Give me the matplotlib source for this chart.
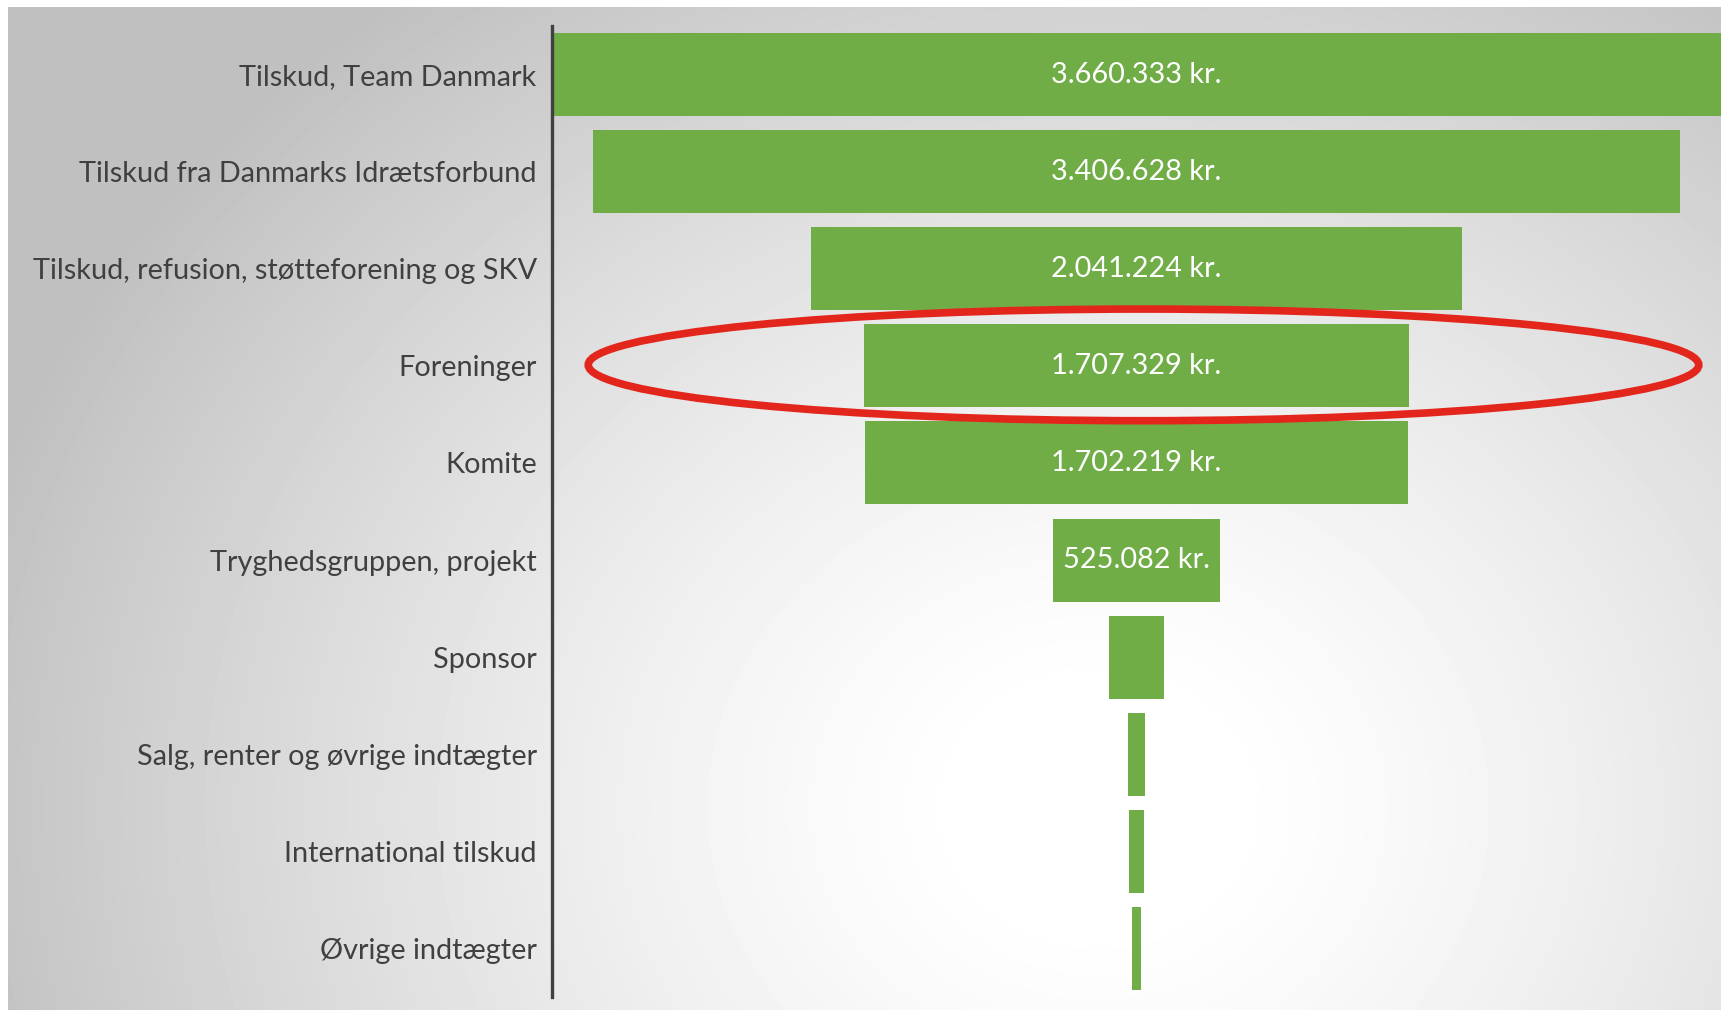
import numpy as np
import matplotlib.pyplot as plt
from matplotlib.patches import Ellipse

# --- data ---
categories = [
    "Tilskud, Team Danmark",
    "Tilskud fra Danmarks Idrætsforbund",
    "Tilskud, refusion, støtteforening og SKV",
    "Foreninger",
    "Komite",
    "Tryghedsgruppen, projekt",
    "Sponsor",
    "Salg, renter og øvrige indtægter",
    "International tilskud",
    "Øvrige indtægter",
]
values = [3660333, 3406628, 2041224, 1707329, 1702219, 525082, 171000, 53000, 47000, 31000]
value_labels = ["3.660.333 kr.", "3.406.628 kr.", "2.041.224 kr.", "1.707.329 kr.",
                "1.702.219 kr.", "525.082 kr.", "", "", "", ""]
highlight = "Foreninger"

plt.rcParams['font.family'] = ['Lato', 'DejaVu Sans']

W, H = 1721, 1010
fig = plt.figure(figsize=(W / 100, H / 100), dpi=100)

# slide-like radial gray background
bg = fig.add_axes([8 / W, 0, 1 - 8 / W, 1 - 7 / H])
gh, gw = H - 7, W - 8
yy, xx = np.mgrid[0:gh, 0:gw]
d = np.hypot(xx - 1090, (yy - 800) * 1.15)
t = np.clip((d - 120) / 1050, 0, 1)
shade = 1 - 0.25 * t ** 1.3
bg.imshow(shade, cmap='gray', vmin=0, vmax=1, aspect='auto', interpolation='bilinear')
bg.axis('off')

# funnel
ax = fig.add_axes([552 / W, 13 / H, 1 - 552 / W, 971 / H])
ax.set_facecolor('none')
vals = np.array(values)
y = np.arange(len(categories))
ax.barh(y, vals, left=-vals / 2, height=0.855, color='#70ad47')
ax.set_xlim(-vals.max() / 2, vals.max() / 2)
ax.set_ylim(len(categories) - 0.5, -0.5)

ax.set_yticks(y, categories, fontsize=20.8, color='#404040')
ax.tick_params(axis='y', length=0, pad=11)
ax.set_xticks([])
for s in ['top', 'right', 'bottom']:
    ax.spines[s].set_visible(False)
ax.spines['left'].set_color('#404040')
ax.spines['left'].set_linewidth(2.4)

for i, lab in enumerate(value_labels):
    if lab:
        ax.text(0, i, lab, ha='center', va='center', color='white', fontsize=20.8)

# red ring around the highlighted row
hi = categories.index(highlight)
ax.add_patch(Ellipse((vals.max() * 0.006, hi - 0.01), width=vals.max() * 0.95, height=1.15,
                     fill=False, ec='#e3261c', lw=5.5, clip_on=False, zorder=5))

fig.savefig('out.png', dpi=100)
